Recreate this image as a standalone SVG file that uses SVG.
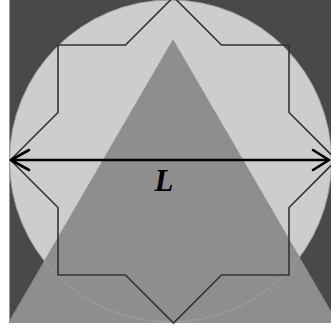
<svg xmlns="http://www.w3.org/2000/svg" width="331" height="329" viewBox="0 0 331 329">
  <style>
    .star { fill: none; stroke: #333333; stroke-width: 1.6; stroke-linejoin: miter; }
    .conn { stroke: #000; stroke-width: 2.6; fill: none; stroke-linecap: round; stroke-linejoin: round; }
    .lbl { font-family: "Liberation Serif", "Times New Roman", serif; font-weight: bold; font-style: italic; font-size: 31px; fill: #000; }
  </style>
  <rect x="0" y="0" width="331" height="329" fill="#ffffff"/>
  <g id="background">
    <rect x="9.5" y="-1" width="323" height="323.5" fill="#494949" stroke="#9a9a9a" stroke-width="1"/>
  </g>
  <g id="circle">
    <circle cx="170.5" cy="161" r="161" fill="#cdcdcd"/>
  </g>
  <g id="triangle">
    <polygon points="173,40 9,322 337,322" fill="#8e8e8e" stroke="#8a8a8a" stroke-width="0.8"/>
    <circle cx="170.5" cy="161" r="161" fill="none" stroke="#a0a0a0" stroke-width="1"/>
  </g>
  <g id="star">
    <polygon class="star" points="173.5,-3 221.5,45 289,45 289,112.5 336.5,160 289,207.5 289,275 221.5,275 173.5,323 125.5,275 58,275 58,207.5 10.5,160 58,112.5 58,45 125.5,45"/>
  </g>
  <g id="connectors">
    <path class="conn" d="M11,160 L329,160"/>
    <path class="conn" d="M29,150 L11,160 L29,170"/>
    <path class="conn" d="M313,150 L329,160 L313,170"/>
  </g>
  <g id="label">
    <text class="lbl" x="164" y="191" text-anchor="middle">L</text>
  </g>
</svg>
